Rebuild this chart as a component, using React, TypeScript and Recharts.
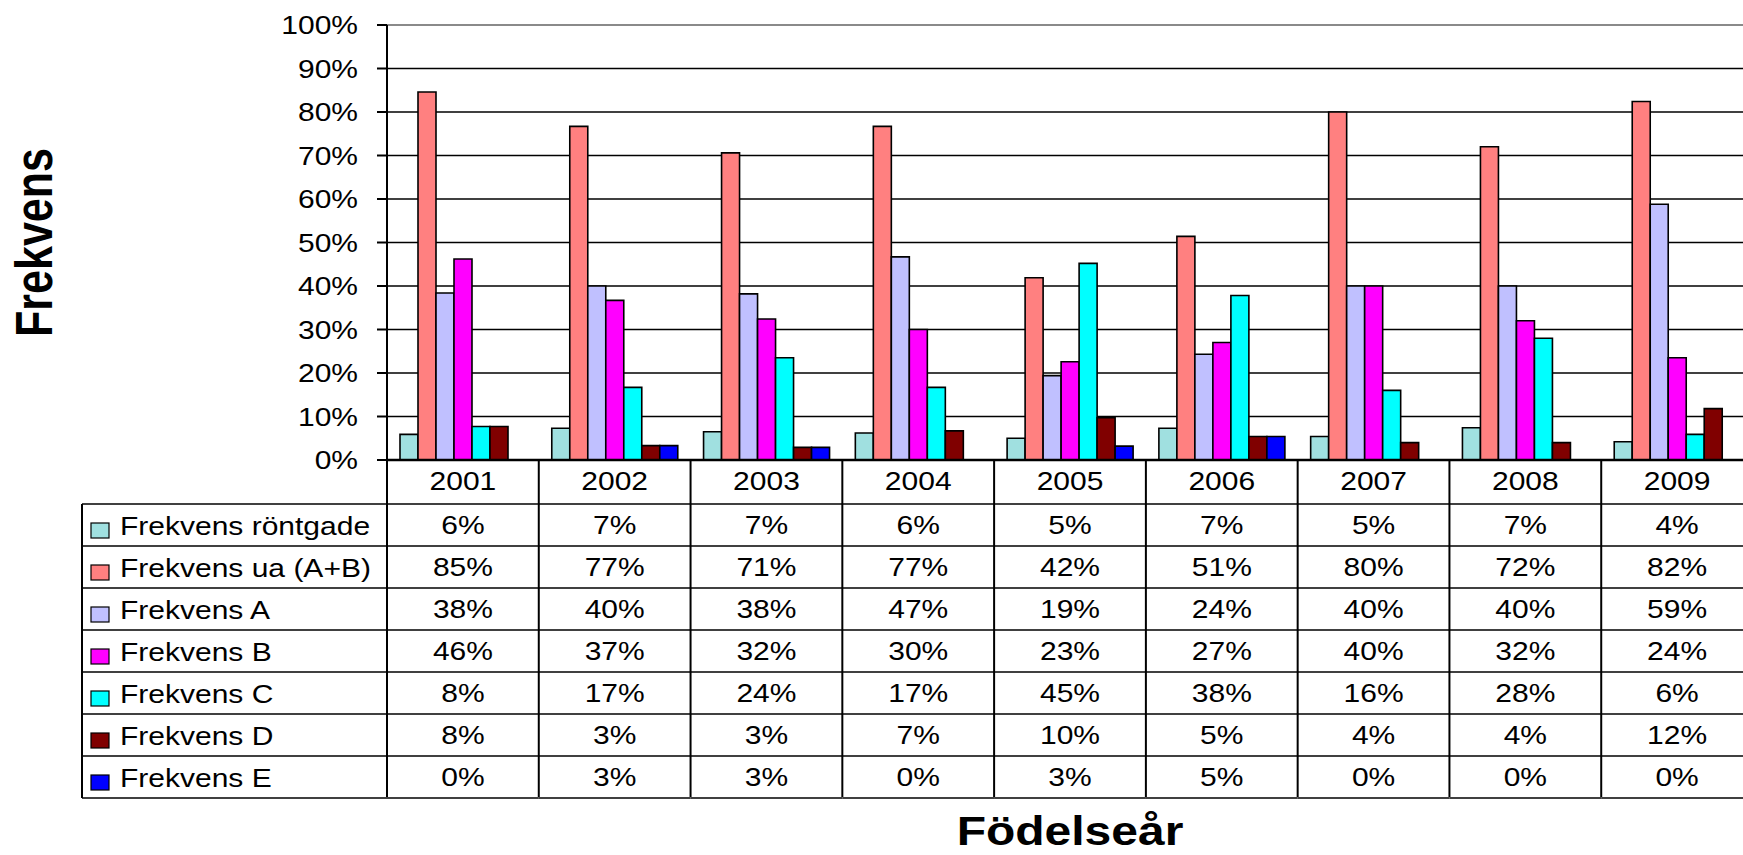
import React from "react";
import { BarChart, Bar, XAxis, YAxis, CartesianGrid } from "recharts";

const YEARS = ["2001", "2002", "2003", "2004", "2005", "2006", "2007", "2008", "2009"];
const RONTGADE = [5.9, 7.3, 6.5, 6.2, 5.0, 7.3, 5.4, 7.4, 4.2];
const UA_AB = [84.6, 76.7, 70.6, 76.7, 41.9, 51.4, 80.0, 72.0, 82.4];
const FREK_A = [38.4, 40.0, 38.2, 46.7, 19.4, 24.3, 40.0, 40.0, 58.8];
const FREK_B = [46.2, 36.7, 32.4, 30.0, 22.6, 27.0, 40.0, 32.0, 23.5];
const FREK_C = [7.7, 16.7, 23.5, 16.7, 45.2, 37.8, 16.0, 28.0, 5.9];
const FREK_D = [7.7, 3.3, 2.9, 6.7, 9.7, 5.4, 4.0, 4.0, 11.8];
const FREK_E = [0, 3.3, 2.9, 0, 3.2, 5.4, 0, 0, 0];
const Y_TICKS = [0, 10, 20, 30, 40, 50, 60, 70, 80, 90, 100];

const SERIES = [
  { key: "rontgade", name: "Frekvens röntgade", color: "#A0E0E0", values: RONTGADE },
  { key: "ua", name: "Frekvens ua (A+B)", color: "#FF8080", values: UA_AB },
  { key: "a", name: "Frekvens A", color: "#C0C0FF", values: FREK_A },
  { key: "b", name: "Frekvens B", color: "#FF00FF", values: FREK_B },
  { key: "c", name: "Frekvens C", color: "#00FFFF", values: FREK_C },
  { key: "d", name: "Frekvens D", color: "#800000", values: FREK_D },
  { key: "e", name: "Frekvens E", color: "#0000FF", values: FREK_E },
];

const data = YEARS.map((year, i) => {
  const row: Record<string, string | number> = { year };
  SERIES.forEach((s) => (row[s.key] = s.values[i]));
  return row;
});

// layout
const CHART_W = 1753;
const CHART_H = 855;
const Y_AXIS_W = 387;
const TOP = 25;
const TABLE_H = 337;
const BAND = (CHART_W - Y_AXIS_W) / YEARS.length;
const YEAR_ROW_H = 44;
const ROW_H = 42;
const FONT = "'Liberation Sans', Arial, sans-serif";
const SX = 1.2; // source image is stretched horizontally

const pct = (v: number) => `${Math.round(v)}%`;

function SText({ x, y, size = 25, anchor = "middle", bold = false, children }: any) {
  return (
    <text
      transform={`translate(${x},${y}) scale(${SX},1)`}
      textAnchor={anchor}
      fontFamily={FONT}
      fontSize={size}
      fontWeight={bold ? 700 : 400}
      fill="#000"
    >
      {children}
    </text>
  );
}

function YTick({ x, y, payload }: any) {
  return (
    <SText x={x} y={y + 9} anchor="end">
      {`${payload.value}%`}
    </SText>
  );
}

function TableTick({ x, y, payload, index }: any) {
  const i = index ?? payload.index;
  const half = BAND / 2;
  const left = x - half;
  const right = x + half;
  const tableTop = y + YEAR_ROW_H;
  return (
    <g>
      <SText x={x} y={y + 30}>{payload.value}</SText>
      {i === 0 && <line x1={left} x2={left} y1={y} y2={y + TABLE_H} stroke="#000" strokeWidth={2} />}
      <line x1={right} x2={right} y1={y} y2={y + TABLE_H} stroke="#000" strokeWidth={2} />
      {SERIES.map((s, r) => (
        <g key={s.key}>
          <line x1={left} x2={right} y1={tableTop + r * ROW_H} y2={tableTop + r * ROW_H} stroke="#000" strokeWidth={1.5} />
          <SText x={x} y={tableTop + r * ROW_H + 30}>{pct(s.values[i])}</SText>
        </g>
      ))}
      <line x1={left} x2={right} y1={tableTop + SERIES.length * ROW_H} y2={tableTop + SERIES.length * ROW_H} stroke="#000" strokeWidth={1.5} />
    </g>
  );
}

function GridLine(props: any) {
  const { x1, x2, y1, y2 } = props;
  const isTop = Math.abs(y1 - TOP) < 1;
  return <line x1={x1} x2={x2} y1={y1} y2={y2} stroke={isTop ? "#8a8a8a" : "#000"} strokeWidth={isTop ? 2 : 1.6} />;
}

function LegendColumn() {
  const left = 82;
  const right = Y_AXIS_W;
  const top = TOP + (CHART_H - TOP - 58 - TABLE_H) + YEAR_ROW_H;
  return (
    <svg width={right + 2} height={CHART_H} style={{ position: "absolute", left: 0, top: 0 }}>
      <line x1={left} x2={left} y1={top} y2={top + SERIES.length * ROW_H} stroke="#000" strokeWidth={2} />
      {SERIES.map((s, r) => (
        <g key={s.key}>
          <line x1={left} x2={right} y1={top + r * ROW_H} y2={top + r * ROW_H} stroke="#000" strokeWidth={1.5} />
          <rect x={91} y={top + r * ROW_H + 19} width={18} height={15} fill={s.color} stroke="#000" strokeWidth={1.2} />
          <SText x={120} y={top + r * ROW_H + 31} anchor="start">{s.name}</SText>
        </g>
      ))}
      <line x1={left} x2={right} y1={top + SERIES.length * ROW_H} y2={top + SERIES.length * ROW_H} stroke="#000" strokeWidth={1.5} />
    </svg>
  );
}

export default function App() {
  return (
    <div style={{ position: "absolute", left: 0, top: 0, width: 1743, height: 855, overflow: "hidden", background: "#fff" }}>
      <BarChart
        width={CHART_W}
        height={CHART_H}
        data={data}
        margin={{ top: TOP, right: 0, left: 0, bottom: 58 }}
        barGap={0}
        barCategoryGap={13}
      >
        <CartesianGrid vertical={false} horizontal={(p: any) => <GridLine {...p} />} />
        <XAxis
          dataKey="year"
          height={TABLE_H}
          interval={0}
          tickLine={false}
          tickSize={0}
          tickMargin={0}
          axisLine={{ stroke: "#000", strokeWidth: 2.5 }}
          tick={(p: any) => <TableTick {...p} />}
          label={{
            content: ({ viewBox }: any) => (
              <SText x={viewBox.x + viewBox.width / 2} y={845} size={40} bold>
                Födelseår
              </SText>
            ),
          }}
        />
        <YAxis
          width={Y_AXIS_W}
          domain={[0, 100]}
          ticks={Y_TICKS}
          interval={0}
          tickSize={10}
          tickMargin={19}
          tickLine={{ stroke: "#000", strokeWidth: 2 }}
          axisLine={{ stroke: "#000", strokeWidth: 2 }}
          tick={(p: any) => <YTick {...p} />}
          label={{
            content: ({ viewBox }: any) => (
              <text
                transform={`translate(52,${viewBox.y + viewBox.height / 2}) scale(${SX},1) rotate(-90)`}
                textAnchor="middle"
                fontFamily={FONT}
                fontSize={43}
                fontWeight={700}
                fill="#000"
              >
                Frekvens
              </text>
            ),
          }}
        />
        {SERIES.map((s) => (
          <Bar
            key={s.key}
            dataKey={s.key}
            name={s.name}
            fill={s.color}
            stroke="#000"
            strokeWidth={1.6}
            isAnimationActive={false}
          />
        ))}
      </BarChart>
      <LegendColumn />
    </div>
  );
}
